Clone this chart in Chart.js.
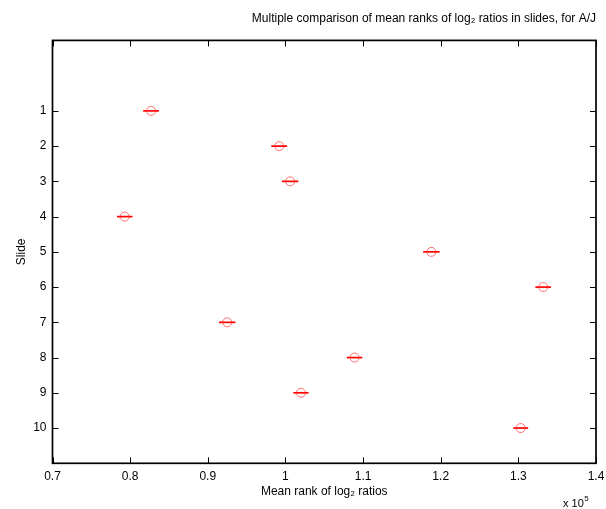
<!DOCTYPE html>
<html>
<head>
<meta charset="utf-8">
<script src="https://cdn.jsdelivr.net/npm/chart.js@4/dist/chart.umd.min.js"></script>
<style>
	html, body { margin: 0; padding: 0; background: #fff; }
	#wrap { width: 606px; height: 509px; }
</style>
</head>
<body>
<div id="wrap"><canvas id="main_chart" width="606" height="509"></canvas></div>
<script>
// slides and their mean ranks of log2 ratios
const slides = [1, 2, 3, 4, 5, 6, 7, 8, 9, 10];
const meanRanks = [82700, 99200, 100600, 79300, 118800, 133200, 92500, 108900, 102000, 130300];
// half width of the comparison interval for each slide
const halfWidths = [1020, 1020, 1060, 1000, 1060, 1010, 1060, 1000, 980, 960];
const xTicks = [70000, 80000, 90000, 100000, 110000, 120000, 130000, 140000];

const FONT = '"Liberation Sans", Arial, sans-serif';
Chart.defaults.color = '#000';
Chart.defaults.font.family = FONT;

const points = slides.map((s, i) => ({ x: meanRanks[i], y: s }));

// horizontal interval lines behind the circles
const intervals = {
	id: 'intervals',
	beforeDatasetsDraw(chart) {
		const { ctx, scales: { x, y } } = chart;
		ctx.save();
		ctx.strokeStyle = '#ff0000';
		ctx.lineWidth = 1.7;
		for (let i = 0; i < slides.length; i++) {
			const py = y.getPixelForValue(slides[i]);
			ctx.beginPath();
			ctx.moveTo(x.getPixelForValue(meanRanks[i] - halfWidths[i]), py);
			ctx.lineTo(x.getPixelForValue(meanRanks[i] + halfWidths[i]), py);
			ctx.stroke();
		}
		ctx.restore();
	}
};

// matlab style box with inward ticks on all sides, plus the x 10^5 note
const frame = {
	id: 'frame',
	afterDraw(chart) {
		const { ctx, chartArea: a, scales: { x, y } } = chart;
		ctx.save();
		ctx.strokeStyle = '#000';
		ctx.lineWidth = 1;
		ctx.beginPath();
		x.ticks.forEach(t => {
			const px = Math.round(x.getPixelForValue(t.value)) + 0.5;
			ctx.moveTo(px, a.bottom);
			ctx.lineTo(px, a.bottom - 6);
			ctx.moveTo(px, a.top);
			ctx.lineTo(px, a.top + 6);
		});
		y.ticks.forEach(t => {
			const py = Math.round(y.getPixelForValue(t.value)) + 0.5;
			ctx.moveTo(a.left, py);
			ctx.lineTo(a.left + 6, py);
			ctx.moveTo(a.right, py);
			ctx.lineTo(a.right - 6, py);
		});
		ctx.stroke();

		ctx.lineWidth = 1.7;
		ctx.strokeRect(a.left, a.top, a.right - a.left, a.bottom - a.top);

		ctx.fillStyle = '#000';
		ctx.textBaseline = 'alphabetic';
		ctx.font = '11px ' + FONT;
		const base = 'x 10';
		const bx = a.right - 33;
		ctx.fillText(base, bx, 507);
		const w = ctx.measureText(base).width;
		ctx.font = '8px ' + FONT;
		ctx.fillText('5', bx + w + 0.5, 501);
		ctx.restore();
	}
};

new Chart(document.getElementById('main_chart'), {
	type: 'scatter',
	data: {
		datasets: [{
			data: points,
			pointStyle: 'circle',
			pointRadius: 4.5,
			pointHoverRadius: 4.5,
			pointBorderWidth: 1,
			borderColor: 'rgba(255, 40, 40, 0.65)',
			backgroundColor: 'rgba(0, 0, 0, 0)',
		}]
	},
	options: {
		responsive: false,
		animation: false,
		layout: {
			padding: { left: 0, right: 10, top: 0, bottom: 0 },
		},
		plugins: {
			legend: { display: false },
			tooltip: { enabled: false },
			title: {
				display: true,
				text: 'Multiple comparison of mean ranks of log\u2082 ratios in slides, for A/J',
				align: 'end',
				color: '#000',
				font: { size: 12, weight: 'normal', family: FONT },
				padding: { top: 11, bottom: 15 },
			},
		},
		scales: {
			x: {
				type: 'linear',
				min: 70000,
				max: 140000,
				afterBuildTicks: axis => { axis.ticks = xTicks.map(v => ({ value: v })); },
				afterFit: axis => {
					axis.height = 45.7;
					axis.paddingLeft = 0;
					axis.paddingRight = 0;
				},
				grid: { display: false, drawTicks: false },
				border: { display: false },
				ticks: {
					padding: 6,
					font: { size: 12 },
					callback: v => String(+(v / 100000).toFixed(1)),
				},
				title: {
					display: true,
					text: 'Mean rank of log\u2082 ratios',
					font: { size: 12 },
					padding: { top: 0, bottom: 10 },
				},
			},
			y: {
				type: 'linear',
				reverse: true,
				min: -1,
				max: 11,
				afterBuildTicks: axis => { axis.ticks = slides.map(v => ({ value: v })); },
				afterFit: axis => { axis.width = 52.5; },
				grid: { display: false, drawTicks: false },
				border: { display: false },
				ticks: {
					padding: 6,
					font: { size: 12 },
				},
				title: {
					display: true,
					text: 'Slide',
					font: { size: 12 },
					padding: { top: 14, bottom: 0 },
				},
			},
		},
	},
	plugins: [intervals, frame],
});
</script>
</body>
</html>
